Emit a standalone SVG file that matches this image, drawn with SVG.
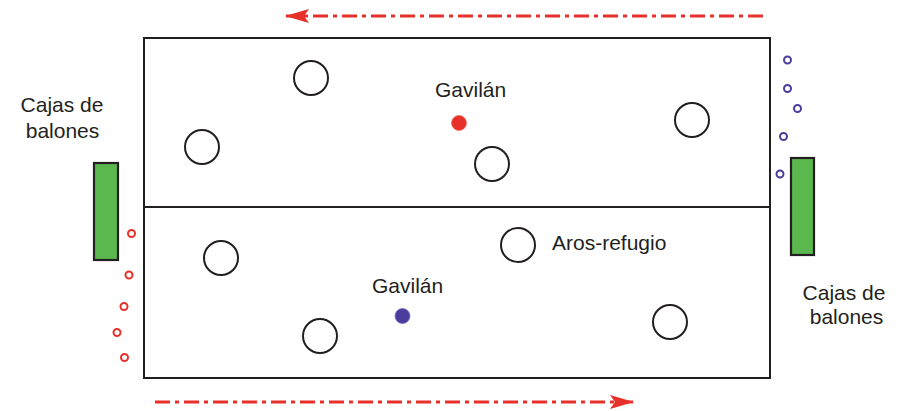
<svg xmlns="http://www.w3.org/2000/svg" width="903" height="411" viewBox="0 0 903 411">
<defs>
<style>
.field{fill:none;stroke:#231f20;stroke-width:2}
.aro{fill:none;stroke:#231f20;stroke-width:2}
.box{fill:#5bb84f;stroke:#231f20;stroke-width:2.2}
.rb{fill:none;stroke:#e8302a;stroke-width:2}
.bb{fill:none;stroke:#4b3d9b;stroke-width:2}
.run{fill:none;stroke:#e8302a;stroke-width:2.8;stroke-dasharray:15 5 4 5}
.lbl{font-family:"Liberation Sans",Arial,sans-serif;font-size:21px;fill:#231f20}
.mid{text-anchor:middle}
</style>
<marker id="ah" viewBox="0 0 24 14" refX="23" refY="7" markerWidth="24" markerHeight="14" markerUnits="userSpaceOnUse" orient="auto">
<path d="M0,0 L24,7 L0,14 L5,7 Z" fill="#e8302a"/>
</marker>
</defs>
<g id="campo">
<rect class="field" x="144" y="38" width="626" height="340"/>
<line class="field" x1="144" y1="207" x2="770" y2="207"/>
</g>
<g id="connectors">
<line class="run" x1="763" y1="16" x2="286" y2="16" marker-end="url(#ah)"/>
<line class="run" x1="155" y1="402" x2="633" y2="402" marker-end="url(#ah)"/>
</g>
<g id="aros">
<circle class="aro" cx="311" cy="78" r="17"/>
<circle class="aro" cx="202" cy="147" r="17"/>
<circle class="aro" cx="692" cy="120" r="17"/>
<circle class="aro" cx="492" cy="164" r="17"/>
<circle class="aro" cx="221" cy="258" r="17"/>
<circle class="aro" cx="518" cy="245" r="17"/>
<circle class="aro" cx="320" cy="336" r="17"/>
<circle class="aro" cx="670" cy="322" r="17"/>
</g>
<g id="gavilan-rojo">
<circle cx="459" cy="123" r="7.5" fill="#e8302a" stroke="#f06a5e" stroke-width="0.8"/>
<text class="lbl" x="435" y="97">Gavilán</text>
</g>
<g id="gavilan-azul">
<circle cx="402.5" cy="316" r="7.5" fill="#4b3d9b" stroke="#7a6fc0" stroke-width="0.8"/>
<text class="lbl" x="372" y="293">Gavilán</text>
</g>
<g id="aros-refugio-label">
<text class="lbl" x="552" y="250">Aros-refugio</text>
</g>
<g id="caja-izq">
<rect class="box" x="94" y="163" width="24" height="97"/>
<text class="lbl mid" x="62" y="112">Cajas de</text>
<text class="lbl mid" x="62.5" y="138">balones</text>
</g>
<g id="balones-rojos">
<circle class="rb" cx="131.5" cy="233.5" r="3.5"/>
<circle class="rb" cx="129" cy="275" r="3.5"/>
<circle class="rb" cx="124" cy="306.5" r="3.5"/>
<circle class="rb" cx="117" cy="332.5" r="3.5"/>
<circle class="rb" cx="124.5" cy="357.5" r="3.5"/>
</g>
<g id="caja-der">
<rect class="box" x="791" y="158" width="23" height="97"/>
<text class="lbl mid" x="844" y="300">Cajas de</text>
<text class="lbl mid" x="846.5" y="324">balones</text>
</g>
<g id="balones-azules">
<circle class="bb" cx="787.5" cy="60" r="3.5"/>
<circle class="bb" cx="787.5" cy="88.5" r="3.5"/>
<circle class="bb" cx="797.5" cy="108.5" r="3.5"/>
<circle class="bb" cx="783.5" cy="136.5" r="3.5"/>
<circle class="bb" cx="780" cy="174" r="3.5"/>
</g>
</svg>
